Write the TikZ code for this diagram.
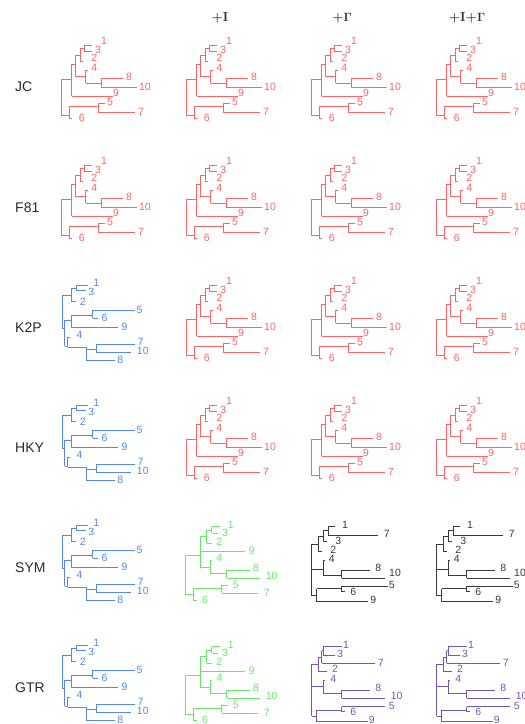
\documentclass[tikz,border=0pt]{standalone}
\usepackage[no-math]{fontspec}
\newfontfamily\labfont{Liberation Sans}
\definecolor{tred}{HTML}{FF6464}
\definecolor{tblue}{HTML}{5587EE}
\definecolor{tgreen}{HTML}{66E866}
\definecolor{tblack}{HTML}{3A3A3A}
\definecolor{tpurple}{HTML}{7856B0}
\definecolor{ink}{HTML}{2A2A2A}
\tikzset{
  branch/.style={line width=0.95pt},
  lab/.style={font=\labfont\fontsize{10.5}{11}\selectfont, inner sep=0pt},
  rowlab/.style={font=\labfont\fontsize{14}{15}\selectfont, text=ink, anchor=west, inner sep=0pt},
  colhead/.style={font=\fontsize{13}{14}\selectfont\bfseries, text=ink, inner sep=0pt},
  % tree of ten taxa: ((((1,3),2),(4,(8,10))),9),(6,(5,7))
  redtree/.pic={
    \draw[branch,tred]
      (0,44)--(0,80)
      (0,44)--(10.7,44) (10.7,29.3)--(10.7,61)
      (10.7,61)--(52.3,61)
      (10.7,29.3)--(14.7,29.3) (14.7,20)--(14.7,41.7)
      (14.7,20)--(19,20) (19,13)--(19,26.7)
      (19,13)--(23.3,13) (23.3,10)--(23.3,16)
      (23.3,10)--(30.7,10) (23.3,16)--(30.7,16)
      (19,26.7)--(22.3,26.7)
      (14.7,41.7)--(24.7,41.7) (24.7,35)--(24.7,48.3)
      (24.7,35)--(27.3,35)
      (24.7,48.3)--(40,48.3) (40,43.3)--(40,52.7)
      (40,43.3)--(62.3,43.3) (40,52.7)--(75.7,52.7)
      (0,80)--(8,80) (8,71.7)--(8,83.3)
      (8,83.3)--(11.3,83.3)
      (8,71.7)--(37.3,71.7) (37.3,68.3)--(37.3,77.3)
      (37.3,68.3)--(44,68.3) (37.3,77.3)--(74,77.3);
    \node[lab,text=tred] (-l1) at (43,6) {1};
    \node[lab,text=tred] (-l3) at (37,15) {3};
    \node[lab,text=tred] (-l2) at (33.3,22.7) {2};
    \node[lab,text=tred] (-l4) at (33.3,33) {4};
    \node[lab,text=tred] (-l8) at (68,41.7) {8};
    \node[lab,text=tred] (-l10) at (84,52) {10};
    \node[lab,text=tred] (-l9) at (55,58) {9};
    \node[lab,text=tred] (-l5) at (49,66.7) {5};
    \node[lab,text=tred] (-l7) at (80,76.7) {7};
    \node[lab,text=tred] (-l6) at (20.7,83.3) {6};
  },
  % ((1,3),2),(((5,6),9),(4,((7,10),8)))
  bluetree/.pic={
    \draw[branch,tblue]
      (0,20)--(0,53)
      (0,20)--(9.2,20) (9.2,13.3)--(9.2,26.7)
      (9.2,13.3)--(14.2,13.3) (14.2,10)--(14.2,15.7)
      (14.2,10)--(25.8,10) (14.2,15.7)--(24.2,15.7)
      (9.2,26.7)--(14.2,26.7)
      (0,53)--(2.5,53) (2.5,45)--(2.5,71)
      (2.5,45)--(9.2,45) (9.2,40)--(9.2,52.3)
      (9.2,40)--(30.8,40) (30.8,35)--(30.8,43.3)
      (30.8,35)--(72.5,35) (30.8,43.3)--(35.8,43.3)
      (9.2,52.3)--(55.8,52.3)
      (2.5,71)--(5.5,71) (5.5,62)--(5.5,72.3)
      (5.5,62)--(7.5,62)
      (5.5,72.3)--(24.2,72.3) (24.2,72.3)--(24.2,85.7)
      (24.2,74)--(34.2,74) (34.2,69)--(34.2,77.7)
      (34.2,69)--(72.5,69) (34.2,77.7)--(69.2,77.7)
      (24.2,85.7)--(52.5,85.7);
    \node[lab,text=tblue] (-l1) at (34.2,8.3) {1};
    \node[lab,text=tblue] (-l3) at (29.2,16.7) {3};
    \node[lab,text=tblue] (-l2) at (20.8,26.7) {2};
    \node[lab,text=tblue] (-l5) at (77.5,35) {5};
    \node[lab,text=tblue] (-l6) at (42.5,43.3) {6};
    \node[lab,text=tblue] (-l9) at (62.5,52.3) {9};
    \node[lab,text=tblue] (-l4) at (17.5,60) {4};
    \node[lab,text=tblue] (-l7) at (78.5,67) {7};
    \node[lab,text=tblue] (-l10) at (80.8,76) {10};
    \node[lab,text=tblue] (-l8) at (58.2,85) {8};
  },
  greentree/.pic={
    \draw[branch,tgreen]
      (0,40)--(0,79)
      (0,40)--(15,40) (15,21.7)--(15,52)
      (15,36.7)--(60,36.7)
      (15,21.7)--(21.7,21.7) (21.7,15)--(21.7,28.3)
      (21.7,15)--(26.7,15) (26.7,11.7)--(26.7,18.3)
      (26.7,11.7)--(35,11.7) (26.7,18.3)--(33.3,18.3)
      (21.7,28.3)--(26.7,28.3)
      (15,52)--(25,52) (25,45)--(25,58.3)
      (25,45)--(27,45)
      (25,58.3)--(41.7,58.3) (41.7,55)--(41.7,63.3)
      (41.7,55)--(65,55) (41.7,63.3)--(75,63.3)
      (0,79)--(8.3,79) (8.3,73.3)--(8.3,85)
      (8.3,85)--(11.7,85)
      (8.3,73.3)--(36.7,73.3) (36.7,70)--(36.7,78.3)
      (36.7,70)--(43.3,70) (36.7,78.3)--(73.3,78.3);
    \node[lab,text=tgreen] (-l1) at (45.7,10) {1};
    \node[lab,text=tgreen] (-l3) at (40,18.3) {3};
    \node[lab,text=tgreen] (-l2) at (34.3,26.7) {2};
    \node[lab,text=tgreen] (-l9) at (66.7,35.7) {9};
    \node[lab,text=tgreen] (-l4) at (34.3,43.3) {4};
    \node[lab,text=tgreen] (-l8) at (71,53.3) {8};
    \node[lab,text=tgreen] (-l10) at (86.7,61) {10};
    \node[lab,text=tgreen] (-l5) at (50.7,70) {5};
    \node[lab,text=tgreen] (-l7) at (81.7,77.7) {7};
    \node[lab,text=tgreen] (-l6) at (20,85.2) {6};
  },
  blacktree/.pic={
    \draw[branch,tblack]
      (0,29)--(0,80.8)
      (0,29)--(6.6,29) (6.6,21.3)--(6.6,36.7)
      (6.6,36.7)--(10,36.7)
      (6.6,21.3)--(11.6,21.3) (11.6,15.8)--(11.6,26.7)
      (11.6,26.7)--(15,26.7)
      (11.6,15.8)--(16.6,15.8) (16.6,11.7)--(16.6,20)
      (16.6,11.7)--(23.3,11.7) (16.6,20)--(66.6,20)
      (0,54.3)--(11.6,54.3) (11.6,45)--(11.6,60)
      (11.6,45)--(13.3,45)
      (11.6,60)--(30,60) (30,55)--(30,63.3)
      (30,55)--(58.3,55) (30,63.3)--(73.3,63.3)
      (0,80.8)--(5,80.8) (5,73.8)--(5,86.7)
      (5,73.8)--(30,73.8) (30,71)--(30,76.7)
      (30,71)--(76.3,71) (30,76.7)--(33.3,76.7)
      (5,86.7)--(56.6,86.7);
    \node[lab,text=tblack] (-l1) at (33.3,10) {1};
    \node[lab,text=tblack] (-l7) at (75,19) {7};
    \node[lab,text=tblack] (-l3) at (26.6,26.2) {3};
    \node[lab,text=tblack] (-l2) at (21.6,34.6) {2};
    \node[lab,text=tblack] (-l4) at (20,43.8) {4};
    \node[lab,text=tblack] (-l8) at (66.6,53.3) {8};
    \node[lab,text=tblack] (-l10) at (83.3,58.3) {10};
    \node[lab,text=tblack] (-l5) at (80,69.8) {5};
    \node[lab,text=tblack] (-l6) at (41.6,76.7) {6};
    \node[lab,text=tblack] (-l9) at (61.6,85) {9};
  },
  purpletree/.pic={
    \draw[branch,tpurple]
      (0,29.4)--(0,81)
      (0,29.4)--(6.6,29.4) (6.6,22)--(6.6,36.7)
      (6.6,36.7)--(15,36.7)
      (6.6,22)--(10,22) (10,15.8)--(10,28.3)
      (10,28.3)--(63.3,28.3)
      (10,15.8)--(11.6,15.8) (11.6,11.7)--(11.6,20)
      (11.6,11.7)--(30,11.7) (11.6,20)--(23.3,20)
      (0,51.7)--(11.6,51.7) (11.6,45)--(11.6,58.3)
      (11.6,45)--(13.3,45)
      (11.6,58.3)--(30,58.3) (30,55)--(30,63.3)
      (30,55)--(58.3,55) (30,63.3)--(73.3,63.3)
      (0,81)--(5,81) (5,75)--(5,86.7)
      (5,75)--(30,75) (30,71.7)--(30,76.7)
      (30,71.7)--(73.3,71.7) (30,76.7)--(33.3,76.7)
      (5,86.7)--(56.6,86.7);
    \node[lab,text=tpurple] (-l1) at (34.3,10) {1};
    \node[lab,text=tpurple] (-l3) at (28.3,19) {3};
    \node[lab,text=tpurple] (-l7) at (69,27.7) {7};
    \node[lab,text=tpurple] (-l2) at (23.3,34) {2};
    \node[lab,text=tpurple] (-l4) at (21.6,44) {4};
    \node[lab,text=tpurple] (-l8) at (66.6,53.3) {8};
    \node[lab,text=tpurple] (-l10) at (85,61) {10};
    \node[lab,text=tpurple] (-l5) at (80,71) {5};
    \node[lab,text=tpurple] (-l6) at (41.6,76.7) {6};
    \node[lab,text=tpurple] (-l9) at (60,85) {9};
  },
}
\begin{document}
\begin{tikzpicture}[x=1pt,y=-1pt]
  \fill[white] (0,0) rectangle (525,724);
  \useasboundingbox (0,0) rectangle (525,724);

  % column headings
  \node[colhead] (h1) at (220,18) {+I};
  \node[colhead] (h2) at (342,18) {+$\mathbf{\Gamma}$};
  \node[colhead] (h3) at (467,18) {+I+$\mathbf{\Gamma}$};

  % model names
  \node[rowlab] (m1) at (15,87) {JC};
  \node[rowlab] (m2) at (15,208) {F81};
  \node[rowlab] (m3) at (15,328) {K2P};
  \node[rowlab] (m4) at (15,448) {HKY};
  \node[rowlab] (m5) at (15,568) {SYM};
  \node[rowlab] (m6) at (15,688) {GTR};

  % JC
  \pic (a1) at (61,35)  {redtree};
  \pic (a2) at (186,35) {redtree};
  \pic (a3) at (311,35) {redtree};
  \pic (a4) at (436,35) {redtree};
  % F81
  \pic (b1) at (61,155)  {redtree};
  \pic (b2) at (186,155) {redtree};
  \pic (b3) at (311,155) {redtree};
  \pic (b4) at (436,155) {redtree};
  % K2P
  \pic (c1) at (62,275)  {bluetree};
  \pic (c2) at (186,275) {redtree};
  \pic (c3) at (311,275) {redtree};
  \pic (c4) at (436,275) {redtree};
  % HKY
  \pic (d1) at (62,395)  {bluetree};
  \pic (d2) at (186,395) {redtree};
  \pic (d3) at (311,395) {redtree};
  \pic (d4) at (436,395) {redtree};
  % SYM
  \pic (e1) at (62,515)  {bluetree};
  \pic (e2) at (185,515) {greentree};
  \pic (e3) at (311.7,515) {blacktree};
  \pic (e4) at (436.7,515) {blacktree};
  % GTR
  \pic (f1) at (62,635)  {bluetree};
  \pic (f2) at (185,635) {greentree};
  \pic (f3) at (311.7,635) {purpletree};
  \pic (f4) at (436.7,635) {purpletree};
\end{tikzpicture}
\end{document}
